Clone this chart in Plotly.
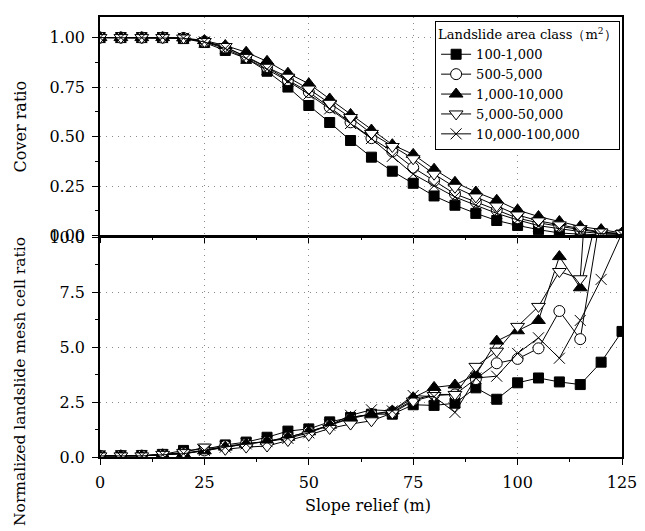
import plotly.graph_objects as go

# ---------------- data ----------------
slope_relief = [0, 5, 10, 15, 20, 25, 30, 35, 40, 45, 50, 55, 60, 65, 70, 75,
                80, 85, 90, 95, 100, 105, 110, 115, 120, 125]

series_names = ["100-1,000", "500-5,000", "1,000-10,000", "5,000-50,000", "10,000-100,000"]

cover_100_1000 = [1, 1, 1, 1, 0.995, 0.975, 0.935, 0.895, 0.83, 0.75, 0.657, 0.571, 0.48,
                  0.396, 0.325, 0.264, 0.2, 0.153, 0.112, 0.076, 0.051, 0.03, 0.013, 0.007, 0.003, 0.001]
cover_500_5000 = [1, 1, 1, 1, 0.998, 0.98, 0.95, 0.905, 0.85, 0.785, 0.725, 0.648, 0.572,
                  0.492, 0.425, 0.343, 0.277, 0.21, 0.17, 0.129, 0.088, 0.064, 0.046, 0.03, 0.015, 0.007]
cover_1000_10000 = [1, 1, 1, 1, 0.998, 0.985, 0.96, 0.926, 0.88, 0.82, 0.767, 0.69, 0.612,
                    0.533, 0.459, 0.41, 0.335, 0.269, 0.22, 0.178, 0.129, 0.096, 0.071, 0.046, 0.03, 0.013]
cover_5000_50000 = [1, 1, 1, 1, 0.998, 0.98, 0.955, 0.9, 0.85, 0.8, 0.74, 0.668, 0.596,
                    0.516, 0.45, 0.388, 0.31, 0.244, 0.195, 0.149, 0.104, 0.074, 0.054, 0.035, 0.018, 0.01]
cover_10000_100000 = [1, 1, 1, 1, 0.997, 0.978, 0.945, 0.895, 0.84, 0.78, 0.714, 0.64, 0.566,
                      0.49, 0.4, 0.31, 0.252, 0.195, 0.153, 0.112, 0.079, 0.05, 0.035, 0.02, 0.01, 0.005]

ratio_100_1000 = [0.05, 0.06, 0.07, 0.12, 0.30, 0.35, 0.55, 0.68, 0.90, 1.18, 1.28, 1.60, 1.80,
                  1.95, 1.95, 2.38, 2.35, 2.45, 3.15, 2.63, 3.38, 3.60, 3.42, 3.30, 4.32, 5.72]
ratio_500_5000 = [0.05, 0.05, 0.06, 0.10, 0.18, 0.30, 0.50, 0.60, 0.70, 0.90, 1.15, 1.45, 1.75,
                  1.95, 2.05, 2.60, 2.85, 2.85, 3.55, 4.27, 4.47, 4.95, 6.65, 5.37, 11.2, None]
ratio_1000_10000 = [0.05, 0.06, 0.05, 0.10, 0.15, 0.28, 0.45, 0.60, 0.72, 0.90, 1.15, 1.45, 1.80,
                    1.95, 2.10, 2.70, 3.17, 3.28, 3.75, 5.28, 5.75, 6.22, 9.13, 7.71, 11.8, None]
ratio_5000_50000 = [0.05, 0.05, 0.05, 0.12, 0.20, 0.45, 0.35, 0.45, 0.50, 0.75, 1.00, 1.30, 1.50,
                    1.65, 2.00, 2.55, 2.80, 2.85, 4.13, 4.82, 5.95, 6.86, 8.45, 8.12, 22.0, None]
ratio_10000_100000 = [0.05, 0.05, 0.05, 0.10, 0.15, 0.30, 0.45, 0.60, 0.70, 0.85, 1.10, 1.45, 1.90,
                      2.15, 2.10, 2.80, 2.75, 2.03, 3.60, 3.68, 4.72, 5.43, 4.50, 6.22, 8.09, 10.2]

cover_series = [cover_100_1000, cover_500_5000, cover_1000_10000, cover_5000_50000, cover_10000_100000]
ratio_series = [ratio_100_1000, ratio_500_5000, ratio_1000_10000, ratio_5000_50000, ratio_10000_100000]

x_ticks = [0, 25, 50, 75, 100, 125]
cover_ticks = [0, 0.25, 0.5, 0.75, 1.0]
ratio_ticks = [0, 2.5, 5.0, 7.5, 10.0]

# ---------------- styles ----------------
marker_styles = [
    dict(symbol="square", size=10, color="black", line=dict(color="black", width=1)),
    dict(symbol="circle", size=11, color="white", line=dict(color="black", width=1)),
    dict(symbol="triangle-up", size=12, color="black", line=dict(color="black", width=1)),
    dict(symbol="triangle-down", size=12, color="white", line=dict(color="black", width=1)),
    dict(symbol="x-thin", size=11, color="black", line=dict(color="black", width=1)),
]

FONT = "DejaVu Serif"

fig = go.Figure()
for name, ys, mk in zip(series_names, cover_series, marker_styles):
    fig.add_trace(go.Scatter(x=slope_relief, y=ys, name=name, mode="lines+markers",
                             line=dict(color="black", width=1), marker=mk,
                             xaxis="x", yaxis="y", showlegend=True))
for name, ys, mk in zip(series_names, ratio_series, marker_styles):
    fig.add_trace(go.Scatter(x=slope_relief, y=ys, name=name, mode="lines+markers",
                             line=dict(color="black", width=1), marker=mk,
                             xaxis="x2", yaxis="y2", showlegend=False))

grid = dict(showgrid=True, gridcolor="#8a8a8a", griddash="1px,5px", gridwidth=1)
axis_common = dict(showline=True, linecolor="black", linewidth=1.5, mirror=True,
                   ticks="outside", ticklen=6, tickcolor="black", tickwidth=1,
                   zeroline=False, tickfont=dict(family=FONT, size=16, color="black"))

fig.update_layout(
    width=645, height=531,
    margin=dict(l=100, r=18, t=8, b=74),
    paper_bgcolor="white", plot_bgcolor="white",
    xaxis=dict(domain=[0, 1], anchor="y", range=[0, 125], tickvals=x_ticks,
               showticklabels=False,
               minor=dict(dtick=12.5, ticklen=3, ticks="outside", tickcolor="black"),
               **grid, **axis_common),
    yaxis=dict(domain=[0.5033, 1], anchor="x", range=[0, 1.104], tickvals=cover_ticks,
               tickformat=".2f", ticklabelstandoff=4,
               minor=dict(dtick=0.125, tick0=0, ticklen=3, ticks="outside", tickcolor="black"),
               **grid, **axis_common),
    xaxis2=dict(domain=[0, 1], anchor="y2", range=[0, 125], tickvals=x_ticks,
                ticklabelstandoff=4,
                minor=dict(dtick=12.5, ticklen=3, ticks="outside", tickcolor="black"),
                **grid, **axis_common),
    yaxis2=dict(domain=[0, 0.4989], anchor="x2", range=[0, 10], tickvals=ratio_ticks,
                tickformat=".1f", ticklabelstandoff=4,
                minor=dict(dtick=1.25, tick0=0, ticklen=3, ticks="outside", tickcolor="black"),
                **grid, **axis_common),
    legend=dict(x=0.642, y=0.99, xanchor="left", yanchor="top",
                bgcolor="white", bordercolor="black", borderwidth=1,
                font=dict(family=FONT, size=13, color="black"),
                title=dict(text="Landslide area class（m<sup>2</sup>）",
                           font=dict(family=FONT, size=13, color="black")),
                tracegroupgap=0),
    annotations=[
        dict(text="Cover ratio", xref="paper", yref="paper", x=-0.152, y=0.7506,
             xanchor="center", yanchor="middle", textangle=-90, showarrow=False,
             font=dict(family=FONT, size=16, color="black")),
        dict(text="Normalized landslide mesh cell ratio", xref="paper", yref="paper",
             x=-0.152, y=0.172, xanchor="center", yanchor="middle", textangle=-90,
             showarrow=False, font=dict(family=FONT, size=15.5, color="black")),
        dict(text="Slope relief (m)", xref="paper", yref="paper", x=0.514, y=-0.11,
             xanchor="center", yanchor="middle", showarrow=False,
             font=dict(family=FONT, size=16, color="black")),
    ],
)

fig.write_html("out.html", config={"displayModeBar": False},
               post_script="document.body.style.margin='0';document.body.style.overflow='hidden';")
